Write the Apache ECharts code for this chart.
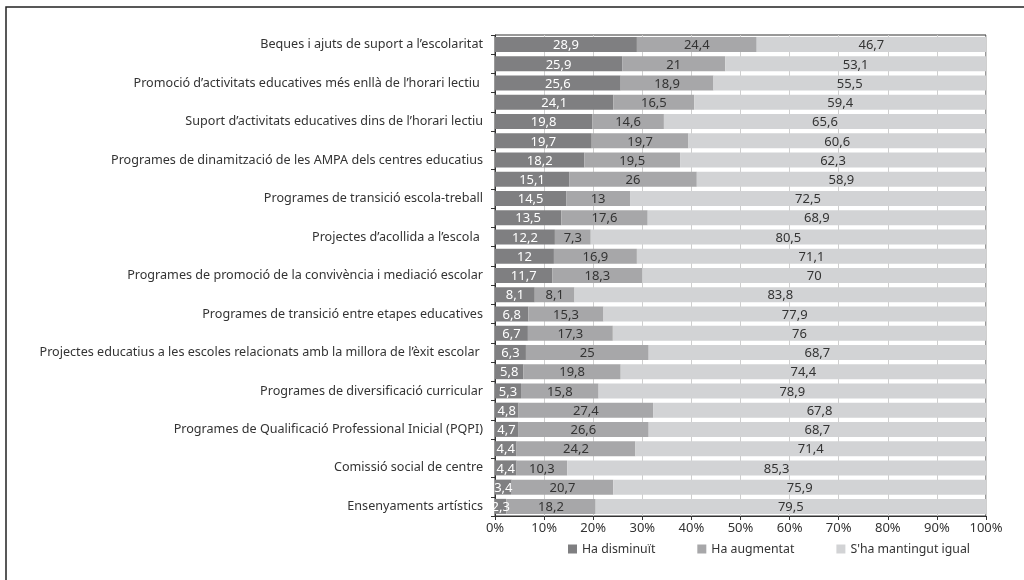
<!DOCTYPE html>
<html>
<head>
<meta charset="utf-8">
<script src="https://cdn.jsdelivr.net/npm/echarts@6/dist/echarts.min.js"></script>
<style>
  html, body { margin: 0; padding: 0; background: #fff; }
  #chart { width: 1024px; height: 580px; }
</style>
</head>
<body>
<div id="chart"></div>
<script>
// categories (only every other bar carries a label in the original)
const categories = [
    'Beques i ajuts de suport a l\u2019escolaritat', '',
    'Promoció d\u2019activitats educatives més enllà de l\u2019horari lectiu ', '',
    'Suport d\u2019activitats educatives dins de l\u2019horari lectiu', '',
    'Programes de dinamització de les AMPA dels centres educatius', '',
    'Programes de transició escola-treball', '',
    'Projectes d\u2019acollida a l\u2019escola ', '',
    'Programes de promoció de la convivència i mediació escolar', '',
    'Programes de transició entre etapes educatives', '',
    'Projectes educatius a les escoles relacionats amb la millora de l\u2019èxit escolar ', '',
    'Programes de diversificació curricular', '',
    'Programes de Qualificació Professional Inicial (PQPI)', '',
    'Comissió social de centre', '',
    'Ensenyaments artístics'
];

const disminuit = [28.9, 25.9, 25.6, 24.1, 19.8, 19.7, 18.2, 15.1, 14.5, 13.5, 12.2, 12, 11.7,
    8.1, 6.8, 6.7, 6.3, 5.8, 5.3, 4.8, 4.7, 4.4, 4.4, 3.4, 2.3];
const augmentat = [24.4, 21, 18.9, 16.5, 14.6, 19.7, 19.5, 26, 13, 17.6, 7.3, 16.9, 18.3,
    8.1, 15.3, 17.3, 25, 19.8, 15.8, 27.4, 26.6, 24.2, 10.3, 20.7, 18.2];
const igual = [46.7, 53.1, 55.5, 59.4, 65.6, 60.6, 62.3, 58.9, 72.5, 68.9, 80.5, 71.1, 70,
    83.8, 77.9, 76, 68.7, 74.4, 78.9, 67.8, 68.7, 71.4, 85.3, 75.9, 79.5];

const seriesNames = ['Ha disminuït', 'Ha augmentat', 'S\'ha mantingut igual'];
const xTicks = [0, 10, 20, 30, 40, 50, 60, 70, 80, 90, 100];

let myChart = echarts.init(document.getElementById('chart'));
const fontFamily = '"Noto Sans", "Open Sans", sans-serif';

function comma(p) {
    return String(p.value).replace('.', ',');
}

function makeSeries(name, data, color, labelColor) {
    return {
        name: name,
        type: 'bar',
        stack: 'total',
        barWidth: 15,
        data: data,
        itemStyle: { color: color },
        label: {
            show: true,
            position: 'inside',
            offset: [0, 1],
            color: labelColor,
            fontSize: 13,
            fontFamily: fontFamily,
            formatter: comma
        }
    };
}

let option = {
    backgroundColor: '#fff',
    animation: false,
    textStyle: { fontFamily: fontFamily },
    graphic: [{
        type: 'rect',
        shape: { x: 6, y: 7, width: 1030, height: 590 },
        style: { fill: 'none', stroke: '#222', lineWidth: 1.5 },
        silent: true
    }],
    legend: {
        bottom: 20,
        left: 563,
        itemWidth: 9,
        itemHeight: 9,
        itemGap: 42,
        icon: 'rect',
        textStyle: { fontSize: 12.3, color: '#333' },
        data: seriesNames
    },
    grid: {
        left: 495,
        right: 38,
        top: 35,
        bottom: 64,
        show: true,
        borderColor: '#333',
        borderWidth: 1
    },
    xAxis: {
        type: 'value',
        min: 0,
        max: 100,
        interval: 10,
        axisLine: { show: true, lineStyle: { color: '#333' } },
        axisTick: { show: true, length: 4, lineStyle: { color: '#333' } },
        axisLabel: {
            color: '#333',
            fontSize: 13,
            margin: 6,
            formatter: v => xTicks.includes(v) ? v + '%' : ''
        },
        splitLine: { show: true, lineStyle: { color: '#cfcfcf' } }
    },
    yAxis: {
        type: 'category',
        inverse: true,
        data: categories,
        axisLine: { show: true, lineStyle: { color: '#333' } },
        axisTick: { show: true, length: 4, interval: 0, lineStyle: { color: '#333' } },
        axisLabel: {
            interval: 0,
            color: '#333',
            fontSize: 12.6,
            margin: 12
        }
    },
    series: [
        makeSeries(seriesNames[0], disminuit, '#7f7f81', '#fff'),
        makeSeries(seriesNames[1], augmentat, '#a7a7a9', '#333'),
        makeSeries(seriesNames[2], igual, '#d2d3d5', '#333')
    ]
};

myChart.setOption(option);
</script>
</body>
</html>
